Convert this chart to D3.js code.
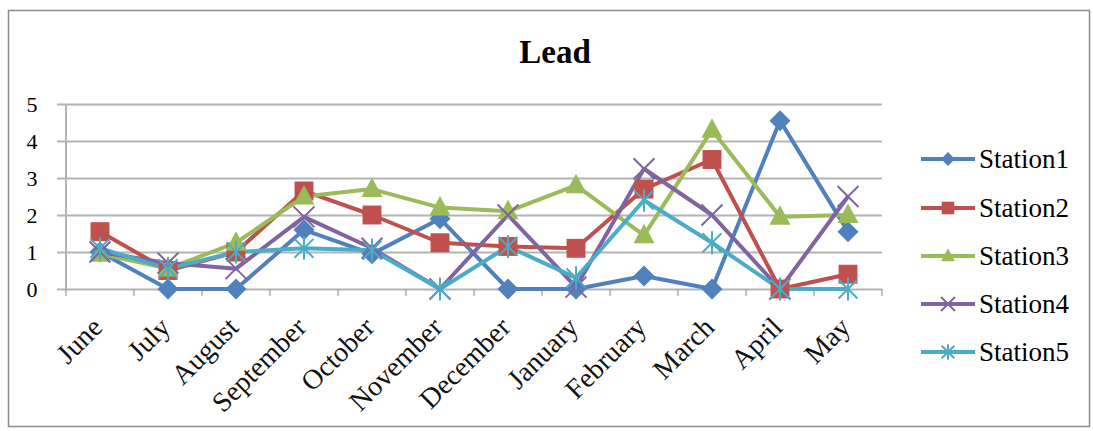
<!DOCTYPE html>
<html>
<head>
<meta charset="utf-8">
<script src="https://cdn.jsdelivr.net/npm/d3@7"></script>
<style>
  html, body { margin: 0; padding: 0; background: #fff; }
  svg { display: block; }
</style>
</head>
<body>
<svg id="chart" width="1093" height="431"></svg>
<script>
// months along the x axis
const months = ["June", "July", "August", "September", "October", "November",
  "December", "January", "February", "March", "April", "May"];
const yTicks = [0, 1, 2, 3, 4, 5];

// lead readings per station
const station1 = [1.0, 0, 0, 1.6, 0.95, 1.9, 0, 0, 0.35, 0, 4.55, 1.55];
const station2 = [1.55, 0.5, 1.0, 2.65, 2.0, 1.25, 1.15, 1.1, 2.7, 3.5, 0, 0.4];
const station3 = [0.95, 0.55, 1.25, 2.5, 2.7, 2.2, 2.1, 2.8, 1.45, 4.3, 1.95, 2.0];
const station4 = [1.0, 0.7, 0.55, 1.95, 1.1, 0, 2.0, 0.05, 3.25, 2.0, 0, 2.5];
const station5 = [1.1, 0.55, 1.0, 1.1, 1.05, 0, 1.15, 0.3, 2.4, 1.25, 0, 0];

const seriesNames = ["Station1", "Station2", "Station3", "Station4", "Station5"];
const seriesValues = [station1, station2, station3, station4, station5];
const colors = ["#4F81BD", "#C0504D", "#9BBB59", "#8064A2", "#4BACC6"];
const markers = ["diamond", "square", "triangle", "x", "star"];

const svg = d3.select("#chart");
const W = 1093, H = 431;
const plot = { left: 66, right: 882, top: 104, bottom: 289 };
const serif = "Liberation Serif, serif";

// outer frame
svg.append("rect")
  .attr("x", 8.5).attr("y", 10.5)
  .attr("width", W - 12).attr("height", H - 15)
  .attr("fill", "#fff").attr("stroke", "#8c8c8c").attr("stroke-width", 1.5);

svg.append("text")
  .attr("x", 555).attr("y", 63)
  .attr("text-anchor", "middle")
  .attr("font-family", serif)
  .attr("font-size", 33).attr("font-weight", "bold")
  .text("Lead");

const x = d3.scaleBand().domain(months).range([plot.left, plot.right]);
const y = d3.scaleLinear().domain([0, 5]).range([plot.bottom, plot.top]);

// horizontal grid + y labels
const yAxis = d3.axisLeft(y).tickValues(yTicks).tickFormat(d3.format("d"))
  .tickSize(-(plot.right - plot.left));
svg.append("g")
  .attr("transform", `translate(${plot.left},0)`)
  .call(yAxis)
  .call(g => g.select(".domain").attr("stroke", "#9a9a9a").attr("stroke-width", 1.5).attr("d", `M0,${plot.top}V${plot.bottom}`))
  .call(g => g.selectAll(".tick line").attr("stroke", "#b4b4b4").attr("stroke-width", 2).attr("x1", -9))
  .call(g => g.selectAll(".tick text").attr("font-size", 22).attr("fill", "#000")
    .attr("font-family", serif).attr("x", -34).attr("text-anchor", "middle"));

// category boundary ticks under the axis
const bounds = d3.range(months.length + 1).map(i => plot.left + i * x.bandwidth());
svg.append("g").selectAll("line").data(bounds).join("line")
  .attr("x1", d => d).attr("x2", d => d)
  .attr("y1", plot.bottom).attr("y2", plot.bottom + 7)
  .attr("stroke", "#9a9a9a").attr("stroke-width", 1.2);

// rotated month labels
svg.append("g").selectAll("text").data(months).join("text")
  .attr("transform", d => `translate(${x(d) + x.bandwidth() / 2 + 4},${plot.bottom + 40}) rotate(-45)`)
  .attr("text-anchor", "end")
  .attr("font-family", serif)
  .attr("font-size", 28)
  .attr("fill", "#111")
  .text(d => d);

function drawMarker(g, type, color, s) {
  if (type === "diamond") {
    g.append("path").attr("d", `M0,${-s}L${s},0L0,${s}L${-s},0Z`).attr("fill", color);
  } else if (type === "square") {
    g.append("rect").attr("x", -s * 0.9).attr("y", -s * 0.9)
      .attr("width", s * 1.8).attr("height", s * 1.8).attr("fill", color);
  } else if (type === "triangle") {
    g.append("path").attr("d", `M0,${-s * 1.1}L${s},${s * 0.75}L${-s},${s * 0.75}Z`).attr("fill", color);
  } else if (type === "x") {
    g.append("path").attr("d", `M${-s},${-s}L${s},${s}M${s},${-s}L${-s},${s}`)
      .attr("stroke", color).attr("stroke-width", 2).attr("fill", "none");
  } else if (type === "star") {
    g.append("path").attr("d", `M${-s * 0.9},${-s * 0.9}L${s * 0.9},${s * 0.9}M${s * 0.9},${-s * 0.9}L${-s * 0.9},${s * 0.9}M0,${-s * 1.1}V${s * 1.1}`)
      .attr("stroke", color).attr("stroke-width", 2).attr("fill", "none");
  }
}

const line = d3.line()
  .x((d, i) => x(months[i]) + x.bandwidth() / 2)
  .y(d => y(d));

const gSeries = svg.append("g");
seriesValues.forEach((vals, k) => {
  gSeries.append("path")
    .attr("d", line(vals))
    .attr("fill", "none")
    .attr("stroke", colors[k])
    .attr("stroke-width", 4)
    .attr("stroke-linejoin", "round");
});
seriesValues.forEach((vals, k) => {
  vals.forEach((v, i) => {
    const g = gSeries.append("g")
      .attr("transform", `translate(${x(months[i]) + x.bandwidth() / 2},${y(v)})`);
    drawMarker(g, markers[k], colors[k], 10.5);
  });
});

// legend
const legendY = [159, 208, 256, 304, 352];
const lg = svg.append("g");
seriesNames.forEach((name, k) => {
  const ly = legendY[k];
  lg.append("line")
    .attr("x1", 921).attr("x2", 975).attr("y1", ly).attr("y2", ly)
    .attr("stroke", colors[k]).attr("stroke-width", 4);
  const g = lg.append("g").attr("transform", `translate(948,${ly})`);
  drawMarker(g, markers[k], colors[k], 7);
  lg.append("text")
    .attr("x", 979).attr("y", ly).attr("dy", "0.33em")
    .attr("font-family", serif)
    .attr("font-size", 27)
    .text(name);
});
</script>
</body>
</html>
